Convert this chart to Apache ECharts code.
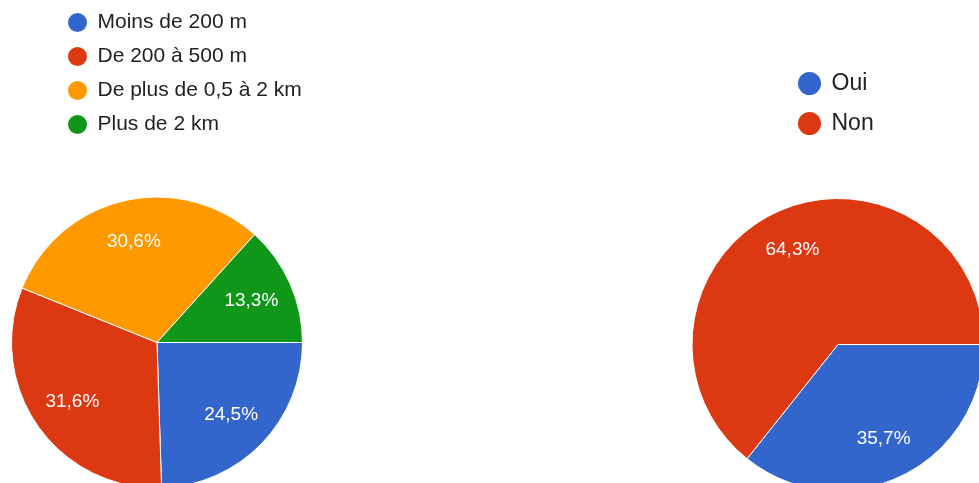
<!DOCTYPE html>
<html>
<head>
<meta charset="utf-8">
<title>Pie charts</title>
<script src="https://cdn.jsdelivr.net/npm/echarts@6/dist/echarts.min.js"></script>
<style>
  html, body { margin: 0; padding: 0; background: #fff; }
  #chart { width: 979px; height: 483px; }
</style>
</head>
<body>
<div id="chart"></div>
<script>
// left pie : distance
var distNames = ['Moins de 200 m', 'De 200 à 500 m', 'De plus de 0,5 à 2 km', 'Plus de 2 km'];
var distValues = [24.5, 31.6, 30.6, 13.3];
var distColors = ['#3366cc', '#dc3912', '#ff9900', '#109618'];

// right pie : oui / non
var ouiNames = ['Oui', 'Non'];
var ouiValues = [35.7, 64.3];
var ouiColors = ['#3366cc', '#dc3912'];

function toData(names, values) {
    var out = [];
    for (var i = 0; i < names.length; i++) {
        out.push({ name: names[i], value: values[i] });
    }
    return out;
}

function pctLabel(p) {
    return p.value.toFixed(1).replace('.', ',') + '%';
}

var chart = echarts.init(document.getElementById('chart'));

var labelStyle = {
    show: true,
    position: 'inside',
    color: '#fff',
    fontFamily: 'Liberation Sans, Arial, sans-serif',
    fontSize: 19,
    formatter: pctLabel
};

var option = {
    animation: false,
    legend: [{
        orient: 'vertical',
        left: 66,
        top: 11,
        padding: 0,
        icon: 'circle',
        // wider box than the circle so the text sits a bit further away
        itemWidth: 30,
        itemHeight: 21,
        itemGap: 11,
        data: distNames,
        selectedMode: false,
        textStyle: {
            color: '#222',
            fontFamily: 'Liberation Sans, Arial, sans-serif',
            fontSize: 21,
            lineHeight: 21
        }
    }, {
        orient: 'vertical',
        left: 796,
        top: 70,
        padding: 0,
        icon: 'circle',
        itemWidth: 34,
        itemHeight: 25,
        itemGap: 13,
        data: ouiNames,
        selectedMode: false,
        textStyle: {
            color: '#222',
            fontFamily: 'Liberation Sans, Arial, sans-serif',
            fontSize: 23,
            lineHeight: 25
        }
    }],
    series: [{
        // main slices, left
        type: 'pie',
        center: [157, 342.5],
        radius: [0, 145.5],
        startAngle: 0,
        clockwise: true,
        color: distColors,
        data: toData(distNames, distValues),
        label: { show: false },
        labelLine: { show: false },
        itemStyle: { borderColor: '#fff', borderWidth: 1 },
        emphasis: { disabled: true },
        silent: true
    }, {
        // main slices, right
        type: 'pie',
        center: [838, 344.5],
        radius: [0, 146],
        startAngle: 0,
        clockwise: true,
        color: ouiColors,
        data: toData(ouiNames, ouiValues),
        label: { show: false },
        labelLine: { show: false },
        itemStyle: { borderColor: '#fff', borderWidth: 1 },
        emphasis: { disabled: true },
        silent: true
    }, {
        // transparent ring only to place the % labels further out
        type: 'pie',
        center: [157, 342.5],
        radius: [55, 145.5],
        startAngle: 0,
        clockwise: true,
        data: toData(distNames, distValues),
        itemStyle: { color: 'rgba(0,0,0,0)' },
        label: labelStyle,
        labelLine: { show: false },
        emphasis: { disabled: true },
        silent: true
    }, {
        type: 'pie',
        center: [838, 344.5],
        radius: [58, 146],
        startAngle: 0,
        clockwise: true,
        data: toData(ouiNames, ouiValues),
        itemStyle: { color: 'rgba(0,0,0,0)' },
        label: labelStyle,
        labelLine: { show: false },
        emphasis: { disabled: true },
        silent: true
    }]
};

chart.setOption(option);
</script>
</body>
</html>
